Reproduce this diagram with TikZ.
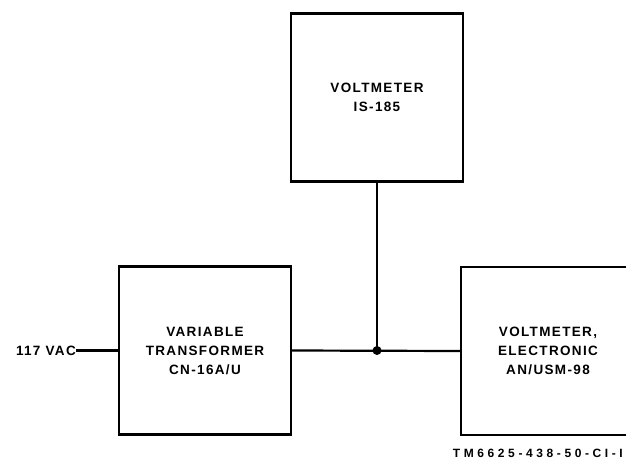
\documentclass[tikz,border=0pt]{standalone}
\usepackage{fontspec}
\setmainfont{Liberation Sans}[BoldFont={Liberation Sans Bold}]
\newfontfamily\lblfont{Liberation Sans Bold}[LetterSpace=10]
\newfontfamily\tmfont{Liberation Sans Bold}[LetterSpace=30]
\begin{document}
\begin{tikzpicture}[x=1pt,y=-1pt,
  unit/.style={draw,line width=2.2pt,minimum width=172pt,minimum height=168pt,inner sep=0pt,
    align=center,font=\lblfont\fontsize{13.5pt}{19pt}\selectfont},
  wire/.style={line width=2.2pt},
  lbl/.style={inner sep=0pt,font=\lblfont\fontsize{13.5pt}{19pt}\selectfont}]
\useasboundingbox (0,0) rectangle (626,461);
\node[unit] (vm) at (377,97.5) {VOLTMETER\\IS-185};
\node[unit] (vt) at (205,350.5) {VARIABLE\\TRANSFORMER\\CN-16A/U};
\node[unit,minimum width=174pt] (em) at (548,351) {VOLTMETER,\\ELECTRONIC\\AN/USM-98};
\node[lbl,anchor=east] (vac) at (76,350.5) {117 VAC};
\node[circle,fill,inner sep=0pt,minimum size=9pt] (j) at (vm.south |- vt.east) {};
\draw[wire] (vac.east) -- (vt.west);
\draw[wire] (vt.east) -- (em.west);
\draw[wire] (vm.south) -- (j.center);
\node[inner sep=0pt,anchor=east,font=\tmfont\fontsize{12pt}{14pt}\selectfont] (tm) at (623,453) {TM6625-438-50-CI-I};
\end{tikzpicture}
\end{document}
